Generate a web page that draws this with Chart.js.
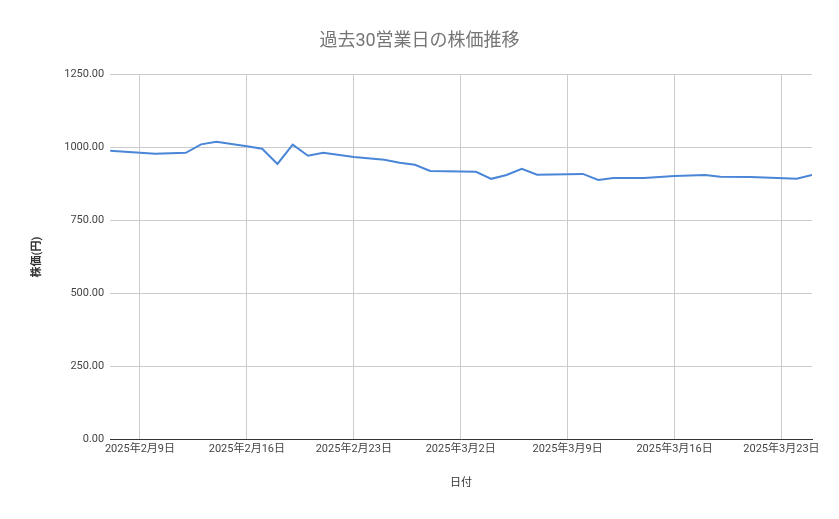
<!DOCTYPE html>
<html><head><meta charset="utf-8">
<script src="https://cdn.jsdelivr.net/npm/chart.js@4"></script>
<style>html,body{margin:0;padding:0;background:#fff}#w{width:839px;height:519px}</style>
</head><body><div id="w"><canvas id="c"></canvas></div>
<script>
const dates=["2/7","2/10","2/12","2/13","2/14","2/16","2/17","2/18","2/19","2/20","2/21","2/23","2/25","2/26","2/27","2/28","3/3","3/4","3/5","3/6","3/7","3/10","3/11","3/12","3/14","3/16","3/18","3/19","3/21","3/24","3/25"];
const prices=[989,979,982,1011,1020,1005,996,944,1010,972,982,968,958,948,941,920,917,893,906,927,907,910,889,896,896,903,906,900,899,893,906];
const tickDays=[9,16,23,30,37,44,51];
const yTicks=[0,250,500,750,1000,1250];
function dayNum(s){const [m,d]=s.split("/").map(Number);return m===2?d:28+d;}
function dayLabel(n){return n<=28?`2025年2月${n}日`:`2025年3月${n-28}日`;}
const pts=dates.map((d,i)=>({x:dayNum(d),y:prices[i]}));
const F="'Roboto','Noto Sans CJK JP',sans-serif";
new Chart(document.getElementById('c'),{type:'line',
data:{datasets:[{data:pts,borderColor:'#4a86d8',borderWidth:2,pointRadius:0,tension:0,fill:false}]},
options:{responsive:true,maintainAspectRatio:false,animation:false,
layout:{padding:{left:27,right:27,top:31,bottom:25}},
plugins:{legend:{display:false},tooltip:{enabled:false},
title:{display:true,text:'過去30営業日の株価推移',color:'#757575',font:{family:F,size:18,weight:'normal'},padding:{bottom:22}}},
scales:{
x:{type:'linear',min:7.05,max:53,afterBuildTicks:a=>{a.ticks=tickDays.map(v=>({value:v}));},
ticks:{callback:v=>dayLabel(v),color:'#444',font:{family:F,size:11},maxRotation:0,autoSkip:false},
grid:{color:'#cccccc',drawTicks:false},border:{color:'#333'},
title:{display:true,text:'日付',color:'#333',font:{family:F,size:11},padding:{top:18}}},
y:{min:0,max:1250,afterBuildTicks:a=>{a.ticks=yTicks.map(v=>({value:v}));},
ticks:{callback:v=>v.toFixed(2),color:'#444',font:{family:F,size:11},padding:6},
grid:{color:'#cccccc',drawTicks:false},border:{display:false},
title:{display:true,text:'株価(円)',color:'#333',font:{family:F,size:11,weight:'bold'},padding:{bottom:14}}}}}});
</script></body></html>
